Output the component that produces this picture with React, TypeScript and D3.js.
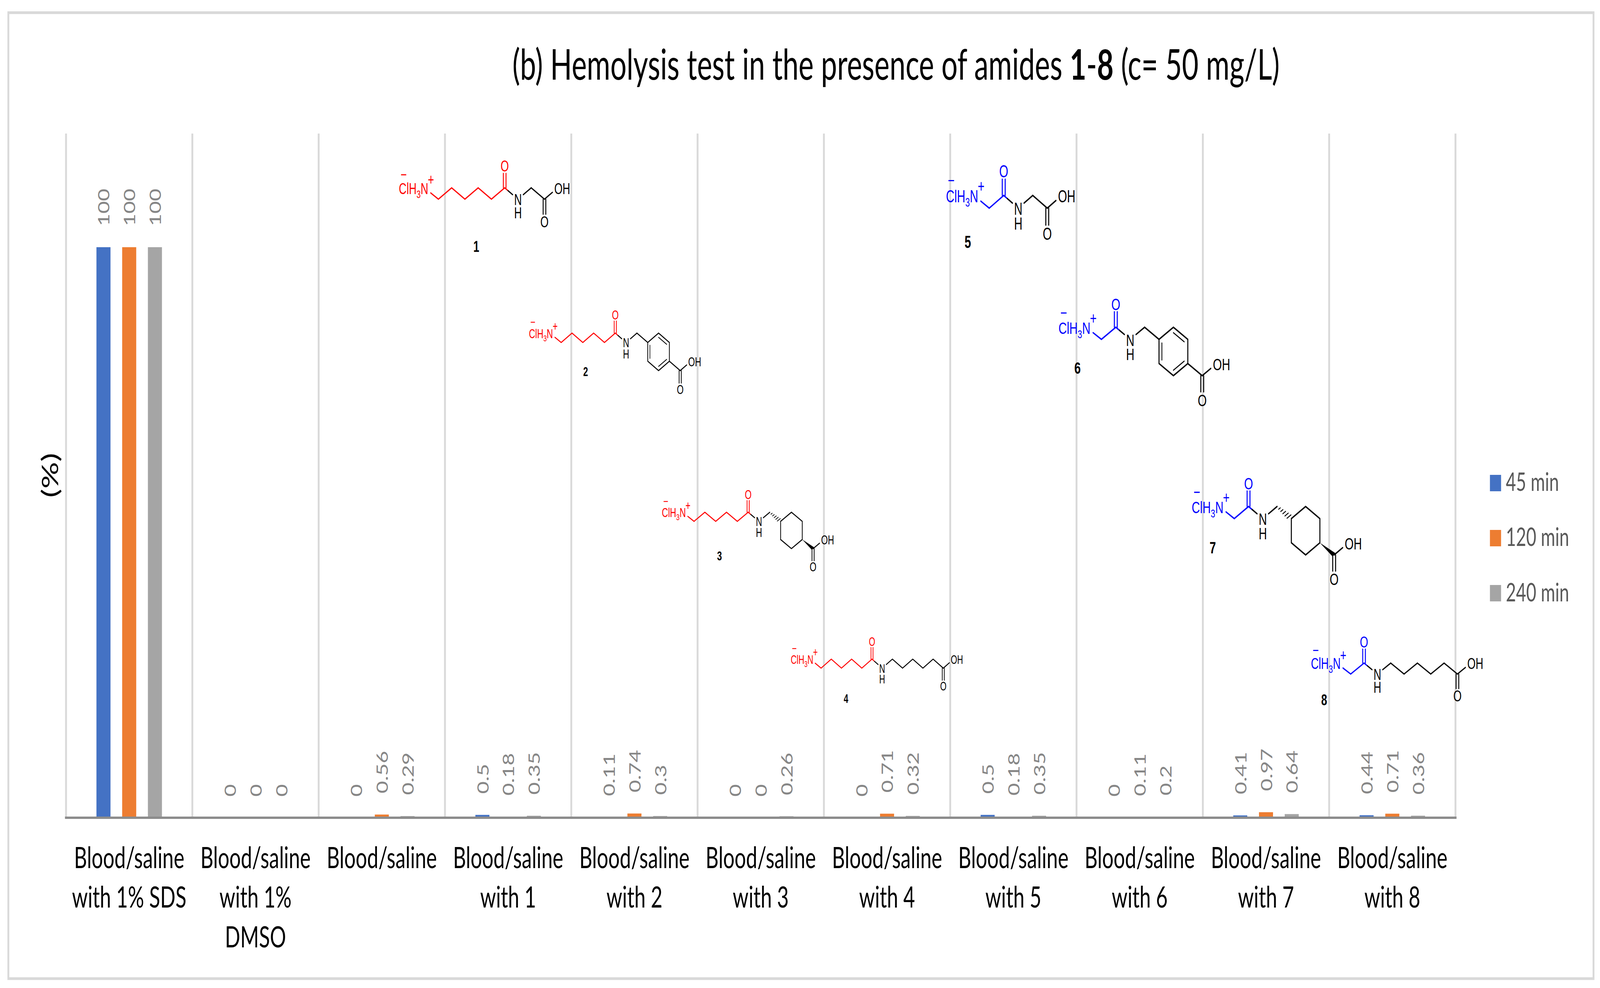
import * as d3 from 'd3';

const WIDTH = 6033;
const HEIGHT = 2530;
const UI_FONT = 'Lato, "Noto Sans", sans-serif';
const CHEM_FONT = '"Liberation Sans", Arial, sans-serif';

const categories = [
    ['Blood/saline', 'with 1% SDS'],
    ['Blood/saline', 'with 1%', 'DMSO'],
    ['Blood/saline'],
    ['Blood/saline', 'with 1'],
    ['Blood/saline', 'with 2'],
    ['Blood/saline', 'with 3'],
    ['Blood/saline', 'with 4'],
    ['Blood/saline', 'with 5'],
    ['Blood/saline', 'with 6'],
    ['Blood/saline', 'with 7'],
    ['Blood/saline', 'with 8'],
];
const seriesNames = ['45 min', '120 min', '240 min'];
const seriesColors = ['#4472c4', '#ed7d31', '#a5a5a5'];
const min45 = [100, 0, 0, 0.5, 0.11, 0, 0, 0.5, 0, 0.41, 0.44];
const min120 = [100, 0, 0.56, 0.18, 0.74, 0, 0.71, 0.18, 0.11, 0.97, 0.71];
const min240 = [100, 0, 0.29, 0.35, 0.3, 0.26, 0.32, 0.35, 0.2, 0.64, 0.36];
const seriesValues = [min45, min120, min240];

type Head = 'long' | 'short';
type Tail = 'gly' | 'benzyl' | 'cyclo' | 'hex';
type Mol = { id: string; x: number; y: number; u: number; v: number; head: Head; tail: Tail; lx: number; ly: number };

// x, y = first low vertex of the chain, u and v = zigzag step
const molecules: Mol[] = [
    { id: '1', x: 1653, y: 510, u: 50, v: 29, head: 'long', tail: 'gly', lx: 1796, ly: 631 },
    { id: '2', x: 2116, y: 877, u: 40.8, v: 24, head: 'long', tail: 'benzyl', lx: 2208, ly: 951 },
    { id: '3', x: 2617, y: 1335, u: 40.8, v: 23.3, head: 'long', tail: 'cyclo', lx: 2713, ly: 1423 },
    { id: '4', x: 3096, y: 1711, u: 38.4, v: 23.2, head: 'long', tail: 'hex', lx: 3190, ly: 1789 },
    { id: '5', x: 3730, y: 533, u: 54.7, v: 32.5, head: 'short', tail: 'gly', lx: 3649, ly: 619 },
    { id: '6', x: 4153, y: 869, u: 54.3, v: 31, head: 'short', tail: 'benzyl', lx: 4063, ly: 941 },
    { id: '7', x: 4654, y: 1328, u: 53.8, v: 31, head: 'short', tail: 'cyclo', lx: 4573, ly: 1402 },
    { id: '8', x: 5093, y: 1726, u: 50.3, v: 28, head: 'short', tail: 'hex', lx: 4993, ly: 1792 },
];

const MoleculeView = ({ m }: { m: Mol }) => {
    const { u, v } = m;
    const color = m.head === 'long' ? '#ff0000' : '#0000ff';
    const px = (a: number) => a * u;
    const py = (b: number) => b * v;
    const line = d3.line<number[]>().x((d) => px(d[0])).y((d) => py(d[1]));
    const fs = u * 0.8;
    const sw = u * 0.07;
    const gap = u * 0.1;
    const c = m.head === 'long' ? 5 : 1;
    const n = c + 1;

    const headPts: number[][] = [[-0.58, -0.55]];
    d3.range(0, c + 1).forEach((i) => headPts.push([i, i % 2 === 0 ? 0 : -1]));

    const black: number[][][] = [
        [[c + 0.25, -0.75], [n - 0.4, -0.4]],
        [[n + 0.4, -0.4], [n + 1, -1]],
    ];
    let acid = [n + 2, 0];
    let ring: number[][] | null = null;
    if (m.tail === 'gly') {
        black.push([[n + 1, -1], [n + 2, 0]]);
    } else if (m.tail === 'hex') {
        black.push([[n + 1, -1], [n + 2, 0], [n + 3, -1], [n + 4, 0], [n + 5, -1], [n + 6, 0]]);
        acid = [n + 6, 0];
    } else {
        ring = [[n + 2, 0], [n + 3, -1], [n + 4, 0], [n + 4, 2], [n + 3, 3], [n + 2, 2], [n + 2, 0]];
        black.push(ring);
        acid = [n + 5, 3];
        if (m.tail === 'benzyl') {
            black.push([[n + 1, -1], [n + 2, 0]]);
            black.push([[n + 4, 2], [n + 5, 3]]);
        }
    }
    black.push([acid, [acid[0] + 0.6, acid[1] - 0.6]]);

    const text = (s: string, a: number, b: number, fill: string) => (
        <text
            x={px(a)}
            y={py(b) + fs * 0.36}
            textAnchor="middle"
            fontFamily={CHEM_FONT}
            fontSize={fs}
            fill={fill}
        >
            {s}
        </text>
    );

    return (
        <g>
            <g transform={`translate(${m.x},${m.y})`} fill="none" strokeLinejoin="miter" strokeLinecap="round">
                <path d={line(headPts) ?? ''} stroke={color} strokeWidth={sw} />
                <path d={line([[c, -1], [c + 0.25, -0.75]]) ?? ''} stroke={color} strokeWidth={sw} />
                <line x1={px(c) - gap} x2={px(c) - gap} y1={py(-1)} y2={py(-2.28)} stroke={color} strokeWidth={sw} />
                <line x1={px(c) + gap} x2={px(c) + gap} y1={py(-1)} y2={py(-2.28)} stroke={color} strokeWidth={sw} />
                {black.map((seg, i) => (
                    <path key={i} d={line(seg) ?? ''} stroke="#000" strokeWidth={sw} />
                ))}
                <line x1={px(acid[0]) - gap} x2={px(acid[0]) - gap} y1={py(acid[1])} y2={py(acid[1] + 1.33)} stroke="#000" strokeWidth={sw} />
                <line x1={px(acid[0]) + gap} x2={px(acid[0]) + gap} y1={py(acid[1])} y2={py(acid[1] + 1.33)} stroke="#000" strokeWidth={sw} />
                {ring && m.tail === 'benzyl' && (
                    <g stroke="#000" strokeWidth={sw * 0.8}>
                        <line x1={px(n + 2.2)} x2={px(n + 2.2)} y1={py(0.3)} y2={py(1.7)} />
                        <line x1={px(n + 3)} x2={px(n + 3.75)} y1={py(-0.55)} y2={py(0.2)} />
                        <line x1={px(n + 3)} x2={px(n + 3.75)} y1={py(2.55)} y2={py(1.8)} />
                    </g>
                )}
                {m.tail === 'cyclo' && (
                    <g>
                        {d3.range(1, 6).map((i) => {
                            const t = i / 6;
                            const cx = n + 1 + t;
                            const cy = -1 + t;
                            const half = 0.04 + 0.12 * t;
                            return (
                                <line
                                    key={i}
                                    x1={px(cx + half)}
                                    y1={py(cy - half)}
                                    x2={px(cx - half)}
                                    y2={py(cy + half)}
                                    stroke="#000"
                                    strokeWidth={sw * 0.7}
                                />
                            );
                        })}
                        <polygon
                            points={[
                                [px(n + 4), py(2)],
                                [px(n + 5 + 0.12), py(3 - 0.12)],
                                [px(n + 5 - 0.12), py(3 + 0.12)],
                            ].join(' ')}
                            fill="#000"
                        />
                    </g>
                )}
                <g stroke="none">
                    {text('O', c, -2.93, color)}
                    {text('N', n, 0.03, '#000')}
                    {text('H', n, 1.2, '#000')}
                    {text('O', acid[0], acid[1] + 2, '#000')}
                    <text x={px(acid[0] + 0.74)} y={py(acid[1] - 0.46)} fontFamily={CHEM_FONT} fontSize={fs} fill="#000">
                        OH
                    </text>
                    <text x={px(-0.76)} y={py(-0.46)} textAnchor="end" fontFamily={CHEM_FONT} fontSize={fs} fill={color}>
                        ClH
                        <tspan dy={fs * 0.25} fontSize={fs * 0.7}>3</tspan>
                        <tspan dy={-fs * 0.25}>N</tspan>
                    </text>
                    {text('+', -0.56, -1.75, color)}
                    {text('−', -2.62, -2.2, color)}
                </g>
            </g>
            <text
                x={m.lx}
                y={m.ly + fs * 0.36}
                textAnchor="middle"
                fontFamily={CHEM_FONT}
                fontWeight="bold"
                fontSize={fs}
                fill="#000"
            >
                {m.id}
            </text>
        </g>
    );
};

export default function App() {
    const xScale = d3.scaleBand<number>().domain(d3.range(categories.length)).range([249, 5488]);
    const barScale = d3.scaleBand<number>().domain([0, 1, 2]).range([-123.5, 123.5]).paddingInner(0.4536);
    const yScale = d3.scaleLinear().domain([0, 100]).range([2094, 633]);
    const gridX = [...xScale.domain().map((i) => xScale(i) ?? 0), 5488];

    return (
        // the window can be narrower than 6033, so the svg fills it and the viewBox keeps the coordinates
        <svg
            viewBox={`0 0 ${WIDTH} ${HEIGHT}`}
            preserveAspectRatio="none"
            style={{ position: 'absolute', left: 0, top: 0, width: '100vw', height: '100vh', background: '#fff' }}
        >
            <rect x={31.5} y={32.5} width={5977} height={2473.5} fill="#fff" stroke="#d9d9d9" strokeWidth={7} />

            <text x={1932} y={204} fontFamily={UI_FONT} fontSize={108} fill="#000">
                (b) Hemolysis test in the presence of amides <tspan fontWeight="bold">1</tspan>-
                <tspan fontWeight="bold">8</tspan> (c= 50 mg/L)
            </text>

            <text
                transform={`translate(219,1217) rotate(-90)`}
                textAnchor="middle"
                fontFamily={UI_FONT}
                fontSize={86}
                fill="#000"
            >
                (%)
            </text>

            {gridX.map((x) => (
                <line key={x} x1={x} x2={x} y1={342} y2={yScale(0)} stroke="#d9d9d9" strokeWidth={7} />
            ))}

            {molecules.map((m) => (
                <MoleculeView key={m.id} m={m} />
            ))}

            {seriesValues.map((vals, s) =>
                vals.map((val, i) => {
                    const cx = (xScale(i) ?? 0) + xScale.bandwidth() / 2;
                    const x = cx + (barScale(s) ?? 0);
                    const mid = x + barScale.bandwidth() / 2;
                    return (
                        <g key={`${s}-${i}`}>
                            <rect
                                x={x}
                                y={yScale(val)}
                                width={barScale.bandwidth()}
                                height={yScale(0) - yScale(val)}
                                fill={seriesColors[s]}
                            />
                            <text
                                transform={`translate(${mid + 23},${yScale(val) - 54}) rotate(-90) scale(0.92,1)`}
                                fontFamily={UI_FONT}
                                fontSize={60}
                                fill="#868686"
                            >
                                {val}
                            </text>
                        </g>
                    );
                }),
            )}

            <line x1={245} x2={5492} y1={yScale(0)} y2={yScale(0)} stroke="#8c8c8c" strokeWidth={6} />

            {categories.map((lines, i) => (
                <text
                    key={i}
                    x={(xScale(i) ?? 0) + xScale.bandwidth() / 2}
                    textAnchor="middle"
                    fontFamily={UI_FONT}
                    fontSize={76}
                    fill="#000"
                >
                    {lines.map((l, j) => (
                        <tspan key={j} x={(xScale(i) ?? 0) + xScale.bandwidth() / 2} y={2223 + j * 101.5}>
                            {l}
                        </tspan>
                    ))}
                </text>
            ))}

            {seriesNames.map((name, s) => (
                <g key={name}>
                    <rect x={5618} y={1216 + s * 141} width={42} height={42} fill={seriesColors[s]} />
                    <text x={5678} y={1257 + s * 141.5} fontFamily={UI_FONT} fontSize={66} fill="#595959">
                        {name}
                    </text>
                </g>
            ))}
        </svg>
    );
}
